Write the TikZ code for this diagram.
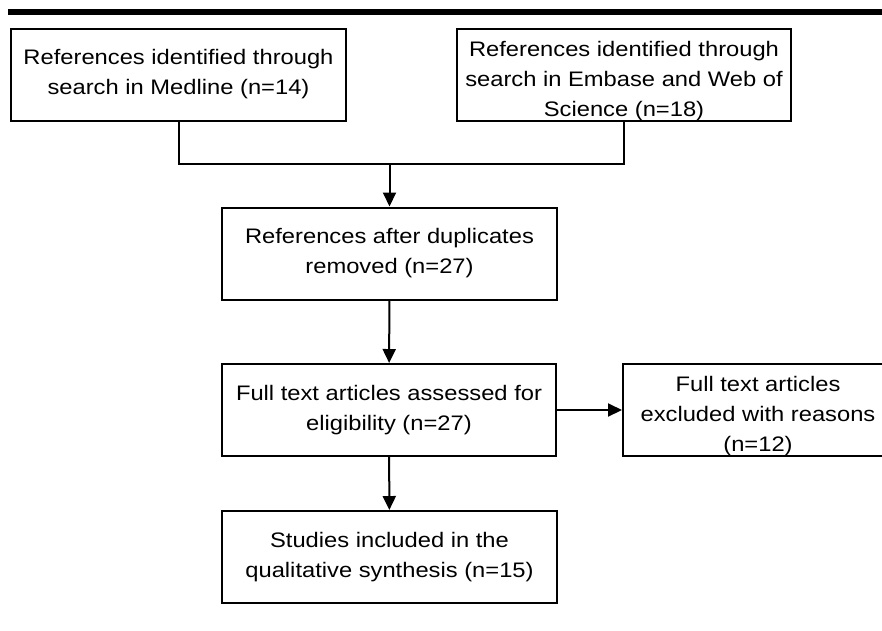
\documentclass[tikz,border=0pt]{standalone}
\usepackage{fontspec}
\setmainfont[FakeStretch=1.13]{Liberation Sans}
\usetikzlibrary{arrows.meta}

\tikzset{
  flowbox/.style={draw, line width=2pt, align=center, inner sep=0pt,
    minimum height=92pt, minimum width=335pt,
    font=\fontsize{21}{30}\selectfont},
  % three lines sit a little low in their box
  lowtext/.style={text height=87pt, text depth=4pt},
  flowarrow/.style={line width=2pt, -{Triangle[length=14pt,width=13pt]}},
  flowline/.style={line width=2pt}
}

\begin{document}
\begin{tikzpicture}[x=1pt,y=-1pt]
    % page frame, same size as the original figure
    \useasboundingbox (0,0) rectangle (882,630);
    \fill (8,9) rectangle (882,15);

    % search sources
    \node[flowbox] (medline) at (178.5,74.5)
      {References identified through\\search in Medline (n=14)};
    \node[flowbox, lowtext, minimum width=334pt] (embase) at (624,75)
      {References identified through\\search in Embase and Web of\\Science (n=18)};

    % screening steps
    \node[flowbox] (dupl) at (389.5,253.5)
      {References after duplicates\\removed (n=27)};
    \node[flowbox, minimum width=334pt] (fulltext) at (389,410)
      {Full text articles assessed for\\eligibility (n=27)};
    \node[flowbox, lowtext, minimum width=270pt] (excluded) at (758,410)
      {Full text articles\\excluded with reasons\\(n=12)};
    \node[flowbox] (included) at (389.5,557)
      {Studies included in the\\qualitative synthesis (n=15)};

    % join the two sources
    \coordinate (join) at (389.5,164);
    \draw[flowline] (medline.south) |- (join) -| (embase.south);
    \draw[flowarrow] (join) -- (dupl);
    \draw[flowarrow] (dupl) -- (fulltext);
    \draw[flowarrow] (fulltext) -- (excluded);
    \draw[flowarrow] (fulltext) -- (included);
\end{tikzpicture}
\end{document}
